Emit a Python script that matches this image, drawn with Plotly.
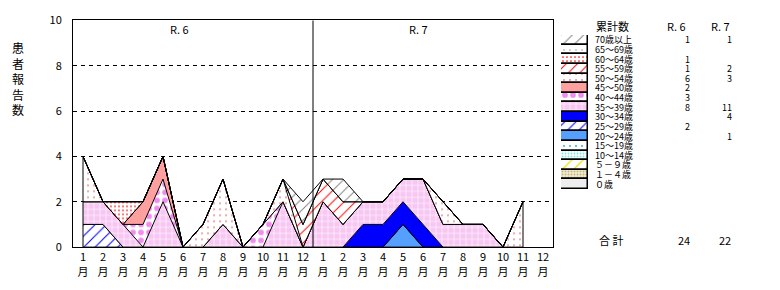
import plotly.graph_objects as go
import numpy as np

# ---------------- data ----------------
month_labels = [str(m) for m in range(1, 13)] * 2
year_labels = ["R. 6", "R. 7"]

# monthly counts: 12 months of R6 then 12 months of R7 (R7 Dec not yet reported)
age_names = ["０歳", "１－４歳", "５－９歳", "10～14歳", "15～19歳", "20～24歳",
             "25～29歳", "30～34歳", "35～39歳", "40～44歳", "45～50歳",
             "50～54歳", "55～59歳", "60～64歳", "65～69歳", "70歳以上"]

a_0     = [0,0,0,0,0,0,0,0,0,0,0,0, 0,0,0,0,0,0,0,0,0,0,0,None]
a_1_4   = [0,0,0,0,0,0,0,0,0,0,0,0, 0,0,0,0,0,0,0,0,0,0,0,None]
a_5_9   = [0,0,0,0,0,0,0,0,0,0,0,0, 0,0,0,0,0,0,0,0,0,0,0,None]
a_10_14 = [0,0,0,0,0,0,0,0,0,0,0,0, 0,0,0,0,0,0,0,0,0,0,0,None]
a_15_19 = [0,0,0,0,0,0,0,0,0,0,0,0, 0,0,0,0,0,0,0,0,0,0,0,None]
a_20_24 = [0,0,0,0,0,0,0,0,0,0,0,0, 0,0,0,0,1,0,0,0,0,0,0,None]
a_25_29 = [1,1,0,0,0,0,0,0,0,0,0,0, 0,0,0,0,0,0,0,0,0,0,0,None]
a_30_34 = [0,0,0,0,0,0,0,0,0,0,0,0, 0,0,1,1,1,1,0,0,0,0,0,None]
a_35_39 = [1,1,1,0,2,0,0,1,0,0,2,0, 2,1,1,1,1,2,1,1,1,0,0,None]
a_40_44 = [0,0,0,1,1,0,0,0,0,1,0,0, 0,0,0,0,0,0,0,0,0,0,0,None]
a_45_50 = [0,0,0,1,1,0,0,0,0,0,0,0, 0,0,0,0,0,0,0,0,0,0,0,None]
a_50_54 = [2,0,0,0,0,0,1,2,0,0,1,0, 0,0,0,0,0,0,1,0,0,0,2,None]
a_55_59 = [0,0,0,0,0,0,0,0,0,0,0,1, 1,1,0,0,0,0,0,0,0,0,0,None]
a_60_64 = [0,0,1,0,0,0,0,0,0,0,0,0, 0,0,0,0,0,0,0,0,0,0,0,None]
a_65_69 = [0,0,0,0,0,0,0,0,0,0,0,0, 0,0,0,0,0,0,0,0,0,0,0,None]
a_70p   = [0,0,0,0,0,0,0,0,0,0,0,1, 0,1,0,0,0,0,0,0,0,0,0,None]

series = [a_0, a_1_4, a_5_9, a_10_14, a_15_19, a_20_24, a_25_29, a_30_34,
          a_35_39, a_40_44, a_45_50, a_50_54, a_55_59, a_60_64, a_65_69, a_70p]

# ---------------- styles ----------------
styles = [
    dict(solid="#EEEEEE"),
    dict(shape=".", fg="#C8B878", bg="#F2EDD6", size=3, sol=0.35),
    dict(shape="/", fg="#F0E000", bg="#FFFFFF", size=8, sol=0.15),
    dict(shape=".", fg="#7FE8E8", bg="#FFFFFF", size=3, sol=0.3),
    dict(shape=".", fg="#30A8A8", bg="#FFFFFF", size=6, sol=0.07),
    dict(solid="#55A0FF"),
    dict(shape="/", fg="#0000FF", bg="#FFFFFF", size=8, sol=0.13),
    dict(solid="#0000FF"),
    dict(shape="+", fg="#FFFFFF", bg="#F7C6F3", size=6, sol=0.18),
    dict(shape=".", fg="#F08CF0", bg="#FFFFFF", size=8, sol=0.4),
    dict(solid="#FFA0A0"),
    dict(shape=".", fg="#E03030", bg="#FFFFFF", size=6, sol=0.05),
    dict(shape="/", fg="#FF0000", bg="#FFFFFF", size=8, sol=0.12),
    dict(shape=".", fg="#FF0000", bg="#FFFFFF", size=4, sol=0.14),
    dict(shape=".", fg="#909090", bg="#FFFFFF", size=6, sol=0.05),
    dict(shape="/", fg="#808080", bg="#FFFFFF", size=8, sol=0.12),
]

FONT = "Noto Sans CJK JP"
W, H = 780, 290

def px_x(p):
    return p / W

def px_y(p):
    return 1 - p / H

fig = go.Figure()

n = len(month_labels)
idx = [i for i in range(n) if a_0[i] is not None]

for name, vals, st in zip(age_names, series, styles):
    y = [vals[i] for i in idx]
    kw = dict(x=idx, y=y, mode="lines", stackgroup="one", name=name,
              line=dict(color="black", width=1), hoverinfo="skip",
              showlegend=False, xaxis="x", yaxis="y")
    if "solid" in st:
        kw["fillcolor"] = st["solid"]
    else:
        kw["fillcolor"] = st["bg"]
        kw["fillpattern"] = dict(shape=st["shape"], fgcolor=st["fg"], bgcolor=st["bg"],
                                 size=st["size"], solidity=st["sol"], fillmode="replace")
    fig.add_trace(go.Scatter(**kw))

# closing vertical edges of the stacked polygon
totals = np.array([sum(s[i] for s in series) for i in idx])
for k in (0, len(idx) - 1):
    fig.add_trace(go.Scatter(x=[idx[k], idx[k]], y=[0, totals[k]], mode="lines",
                             line=dict(color="black", width=1), hoverinfo="skip",
                             showlegend=False, xaxis="x", yaxis="y"))

# ---------------- legend swatches ----------------
for r, (name, st) in enumerate(zip(age_names[::-1], styles[::-1])):
    if "solid" in st:
        marker = dict(color=st["solid"], line=dict(color="black", width=1.5))
    else:
        marker = dict(color=st["bg"], line=dict(color="black", width=1.5),
                      pattern=dict(shape=st["shape"], fgcolor=st["fg"], bgcolor=st["bg"],
                                   size=st["size"], solidity=st["sol"], fillmode="replace"))
    fig.add_trace(go.Bar(x=[1], y=[r], orientation="h", width=1, marker=marker,
                         hoverinfo="skip", showlegend=False, xaxis="x2", yaxis="y2"))

LF = 9
annotations = []
r6_tot = [sum(v for v in s[:12]) for s in series]
r7_tot = [sum(v for v in s[12:] if v is not None) for s in series]
for r, name in enumerate(age_names[::-1]):
    k = len(age_names) - 1 - r
    annotations.append(dict(x=px_x(594), y=r, xref="paper", yref="y2", text=name,
                            xanchor="left", yanchor="middle", showarrow=False,
                            borderpad=0, font=dict(size=LF, family=FONT)))
    if r6_tot[k]:
        annotations.append(dict(x=px_x(691), y=r, xref="paper", yref="y2", text=str(r6_tot[k]),
                                xanchor="right", yanchor="middle", showarrow=False,
                                borderpad=0, font=dict(size=LF, family=FONT)))
    if r7_tot[k]:
        annotations.append(dict(x=px_x(733), y=r, xref="paper", yref="y2", text=str(r7_tot[k]),
                                xanchor="right", yanchor="middle", showarrow=False,
                                borderpad=0, font=dict(size=LF, family=FONT)))

annotations += [
    dict(x=px_x(594), y=px_y(18), xref="paper", yref="paper", text="累計数",
         xanchor="left", yanchor="middle", showarrow=False, font=dict(size=11, family=FONT)),
    dict(x=px_x(676), y=px_y(18), xref="paper", yref="paper", text=year_labels[0],
         xanchor="center", yanchor="middle", showarrow=False, font=dict(size=11, family=FONT)),
    dict(x=px_x(720), y=px_y(18), xref="paper", yref="paper", text=year_labels[1],
         xanchor="center", yanchor="middle", showarrow=False, font=dict(size=11, family=FONT)),
    dict(x=px_x(597), y=px_y(244), xref="paper", yref="paper", text="合 計",
         xanchor="left", yanchor="middle", showarrow=False, font=dict(size=11, family=FONT)),
    dict(x=px_x(692), y=px_y(244), xref="paper", yref="paper", text=str(sum(r6_tot)),
         xanchor="right", yanchor="middle", showarrow=False, font=dict(size=11, family=FONT)),
    dict(x=px_x(733), y=px_y(244), xref="paper", yref="paper", text=str(sum(r7_tot)),
         xanchor="right", yanchor="middle", showarrow=False, font=dict(size=11, family=FONT)),
    dict(x=4.8, y=px_y(21), xref="x", yref="paper", text=year_labels[0],
         xanchor="center", yanchor="middle", showarrow=False, font=dict(size=11, family=FONT)),
    dict(x=16.75, y=px_y(21), xref="x", yref="paper", text=year_labels[1],
         xanchor="center", yanchor="middle", showarrow=False, font=dict(size=11, family=FONT)),
    dict(x=px_x(18), y=px_y(74), xref="paper", yref="paper",
         text="患<br>者<br>報<br>告<br>数", xanchor="center", yanchor="middle",
         showarrow=False, font=dict(size=12, family=FONT)),
]

fig.update_layout(
    width=W, height=H, autosize=False,
    margin=dict(l=0, r=0, t=0, b=0),
    paper_bgcolor="white", plot_bgcolor="white",
    font=dict(family=FONT, size=11, color="black"),
    showlegend=False,
    bargap=0,
    xaxis=dict(domain=[px_x(73), px_x(553)], range=[-0.5, 23.5],
               tickvals=list(range(n)),
               ticktext=[f"{m}<br>月" for m in month_labels],
               showgrid=False, zeroline=False, showline=True, mirror=True,
               linecolor="black", linewidth=1, ticks="", tickfont=dict(size=11),
               fixedrange=True),
    yaxis=dict(domain=[px_y(252), px_y(12)], range=[0, 10], dtick=2,
               showgrid=True, gridcolor="black", gridwidth=1, griddash="4px,4px",
               zeroline=False, showline=True, mirror=True, linecolor="black",
               linewidth=1, ticks="", ticklabelstandoff=8, tickfont=dict(size=11),
               fixedrange=True),
    xaxis2=dict(domain=[px_x(561), px_x(588)], range=[0, 1], visible=False,
                anchor="y2", fixedrange=True),
    yaxis2=dict(domain=[px_y(190.5), px_y(27.5)], range=[15.5, -0.5], visible=False,
                anchor="x2", fixedrange=True),
    shapes=[dict(type="line", xref="x", yref="y", x0=11.5, x1=11.5, y0=0, y1=10,
                 line=dict(color="black", width=1))],
    annotations=annotations,
)

fig.write_html("out.html")
